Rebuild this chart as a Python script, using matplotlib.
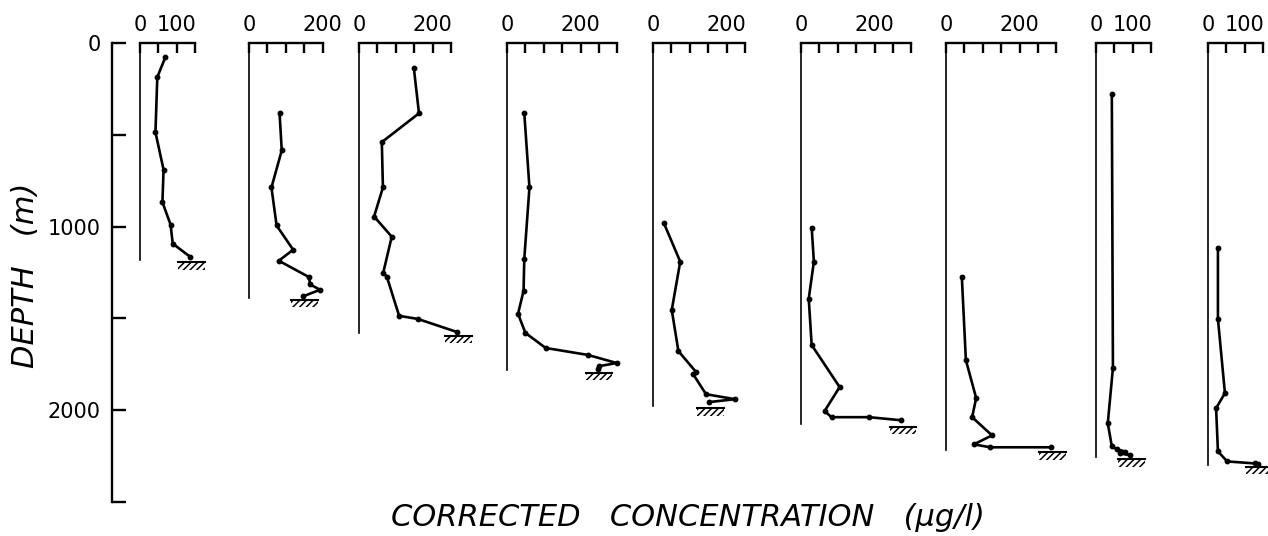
import matplotlib
matplotlib.use('Agg')
import matplotlib.pyplot as plt
from matplotlib.patches import Rectangle

# corrected concentration (ug/l) against depth (m), one list pair per station
conc_1 = [69, 47, 42, 64, 61, 83, 89, 136]
depth_1 = [77, 186, 486, 690, 867, 989, 1093, 1164]

conc_2 = [83, 89, 61, 75, 120, 81, 163, 166, 193, 147]
depth_2 = [381, 585, 787, 994, 1126, 1186, 1275, 1315, 1344, 1380]

conc_3 = [149, 163, 62, 65, 41, 89, 66, 76, 109, 160, 266]
depth_3 = [136, 383, 540, 787, 945, 1055, 1250, 1275, 1486, 1503, 1574]

conc_4 = [47, 61, 47, 45, 30, 50, 105, 220, 298, 251, 246]
depth_4 = [383, 787, 1175, 1350, 1475, 1579, 1661, 1699, 1743, 1760, 1776]

conc_5 = [30, 74, 51, 69, 117, 109, 144, 223, 152]
depth_5 = [983, 1191, 1454, 1678, 1792, 1803, 1913, 1940, 1956]

conc_6 = [29, 35, 21, 29, 105, 64, 83, 185, 273]
depth_6 = [1005, 1191, 1393, 1645, 1874, 2005, 2038, 2038, 2055]

conc_7 = [43, 54, 82, 71, 125, 76, 120, 285]
depth_7 = [1273, 1727, 1934, 2038, 2137, 2186, 2202, 2202]

conc_8 = [43, 46, 32, 43, 56, 80, 65, 92]
depth_8 = [279, 1770, 2071, 2197, 2213, 2225, 2235, 2245]

conc_9 = [27, 27, 46, 22, 27, 52, 128, 136]
depth_9 = [1115, 1503, 1907, 1989, 2224, 2279, 2290, 2295]

profiles = [(conc_1, depth_1), (conc_2, depth_2), (conc_3, depth_3),
            (conc_4, depth_4), (conc_5, depth_5), (conc_6, depth_6),
            (conc_7, depth_7), (conc_8, depth_8), (conc_9, depth_9)]

scale_max = [150, 200, 250, 300, 250, 300, 300, 150, 150]
scale_label = [100, 200, 200, 200, 200, 200, 200, 100, 100]
seafloor = [1195, 1400, 1595, 1795, 1990, 2090, 2230, 2268, 2310]

depth_ticks = [0, 500, 1000, 1500, 2000, 2500]
depth_labels = ['0', '', '1000', '', '2000', '']

# ---- layout in pixels ----
W, H, DPI = 1268, 536, 100
TOP, BOT = 43, 502          # y pixel of 0 m and 2500 m
PX_PER_UNIT = 0.368
panel_left = [140, 249, 359, 507, 653, 801, 946, 1096, 1208]


def box(x0, width):
    return [x0 / W, 1 - BOT / H, width / W, (BOT - TOP) / H]


plt.rcParams['font.family'] = ['DejaVu Sans']
plt.rcParams['hatch.linewidth'] = 1.1
fig = plt.figure(figsize=(W / DPI, H / DPI), dpi=DPI)

# depth scale
ax0 = fig.add_axes(box(112, 20))
ax0.set_ylim(2500, 0)
ax0.set_xticks([])
for s in ['top', 'right', 'bottom']:
    ax0.spines[s].set_visible(False)
ax0.spines['left'].set_linewidth(1.7)
ax0.set_yticks(depth_ticks)
ax0.set_yticklabels(depth_labels)
ax0.tick_params(axis='y', direction='in', length=10, width=1.7, pad=8,
                labelsize=15)
ax0.patch.set_visible(False)

for i, (conc, dep) in enumerate(profiles):
    xmax = scale_max[i]
    ax = fig.add_axes(box(panel_left[i], xmax * PX_PER_UNIT))
    ax.patch.set_visible(False)
    ax.set_xlim(0, xmax)
    ax.set_ylim(2500, 0)
    ax.set_yticks([])
    ax.xaxis.tick_top()
    ax.spines['right'].set_visible(False)
    ax.spines['bottom'].set_visible(False)
    ax.spines['top'].set_bounds(0, xmax)
    ax.spines['top'].set_linewidth(1.7)
    ax.spines['left'].set_bounds(0, seafloor[i] - 13)
    ax.spines['left'].set_linewidth(1.2)
    ticks = list(range(0, xmax + 1, 50))
    ax.set_xticks(ticks)
    ax.set_xticklabels(['0' if t == 0 else (str(t) if t == scale_label[i] else '')
                        for t in ticks])
    ax.tick_params(axis='x', direction='in', length=7, width=1.7, pad=6,
                   labelsize=15)

    ax.plot(conc, dep, color='black', lw=1.9, marker='o', ms=3.2,
            clip_on=False, solid_joinstyle='miter')

    # sea floor
    x0 = conc[-1] - 32
    ax.add_patch(Rectangle((x0, seafloor[i]), 72, 40, fill=False,
                           hatch='/////', edgecolor='black', linewidth=0,
                           clip_on=False))
    ax.plot([x0, x0 + 72], [seafloor[i], seafloor[i]], color='black',
            lw=1.5, clip_on=False)

fig.text(688 / W, 1 - 517 / H, 'CORRECTED   CONCENTRATION   (\u00b5g/l)',
         style='italic', fontsize=22, ha='center', va='center')
fig.text(26 / W, 1 - 275 / H, 'DEPTH   (m)', style='italic', fontsize=22,
         rotation=90, ha='center', va='center')

fig.savefig('out.png', dpi=DPI)
